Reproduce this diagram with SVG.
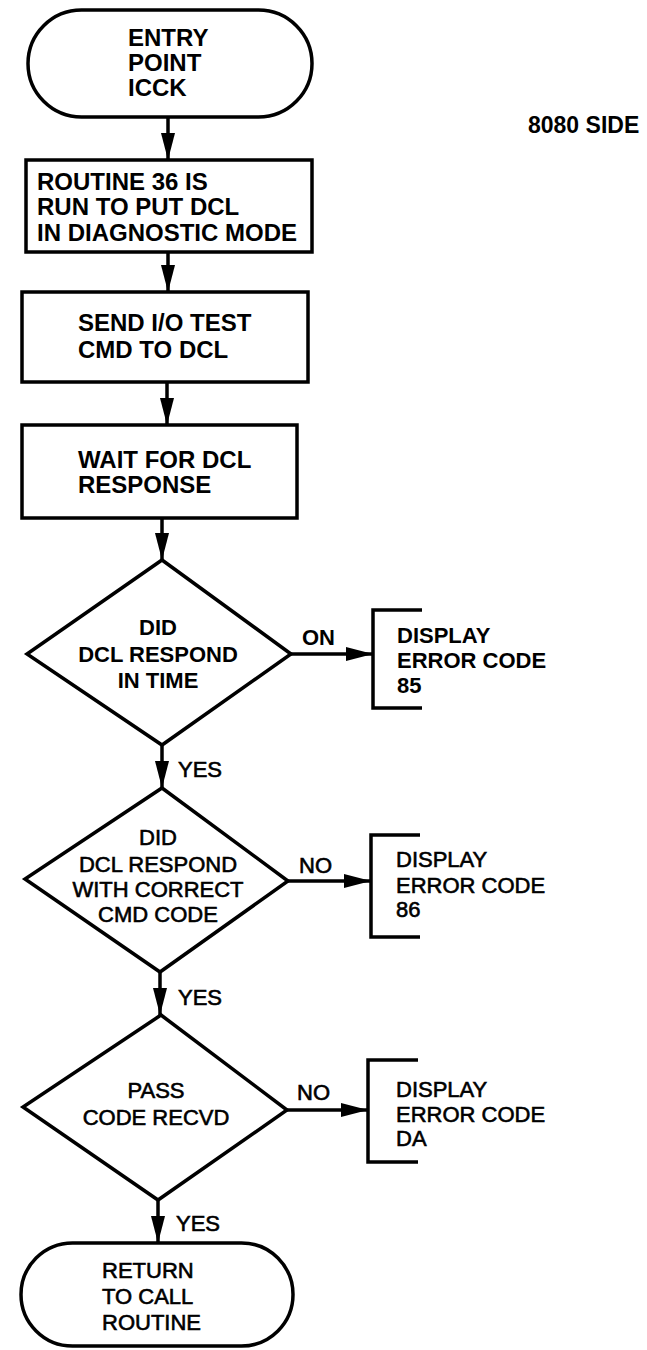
<svg xmlns="http://www.w3.org/2000/svg" width="647" height="1350" viewBox="0 0 647 1350">
<style>
.s{fill:none;stroke:#000;stroke-width:3.5;stroke-linejoin:miter}
.t{font-family:"Liberation Sans",Arial,Helvetica,sans-serif;font-weight:bold;fill:#000}
.b{font-size:24px}
.m{font-size:22px}
.c{text-anchor:middle}
.l{font-size:22px;font-weight:normal;stroke:#000;stroke-width:0.6}
</style>
<defs>
<marker id="ah" markerUnits="userSpaceOnUse" markerWidth="28" markerHeight="15" refX="27" refY="7.5" orient="auto">
<path d="M0,0.5 L27,7.5 L0,14.5 Z" fill="#000"/>
</marker>
</defs>
<rect width="647" height="1350" fill="#fff"/>
<text class="t" x="528" y="133" font-size="23">8080 SIDE</text>

<g id="entry">
<rect class="s" x="28" y="10" width="284" height="107" rx="53.5"/>
<text class="t b" x="128" y="46">ENTRY</text>
<text class="t b" x="128" y="71">POINT</text>
<text class="t b" x="128" y="96">ICCK</text>
</g>

<g id="box1">
<rect class="s" x="26" y="160" width="286" height="92"/>
<text class="t b" x="37" y="190">ROUTINE 36 IS</text>
<text class="t b" x="37" y="215">RUN TO PUT DCL</text>
<text class="t b" x="37" y="241">IN DIAGNOSTIC MODE</text>
</g>

<g id="box2">
<rect class="s" x="22" y="292" width="286" height="90"/>
<text class="t b" x="78" y="331">SEND I/O TEST</text>
<text class="t b" x="78" y="358">CMD TO DCL</text>
</g>

<g id="box3">
<rect class="s" x="22" y="425" width="275" height="93"/>
<text class="t b" x="78" y="468">WAIT FOR DCL</text>
<text class="t b" x="78" y="493">RESPONSE</text>
</g>

<g id="dec1">
<path class="s" d="M162,560 L291,654 L162,745 L27,654 Z"/>
<text class="t m c" x="158" y="635">DID</text>
<text class="t m c" x="158" y="662">DCL RESPOND</text>
<text class="t m c" x="158" y="688">IN TIME</text>
</g>

<g id="err85">
<path class="s" d="M422,610 H373 V708 H422"/>
<text class="t m" x="397" y="643">DISPLAY</text>
<text class="t m" x="397" y="668">ERROR CODE</text>
<text class="t m" x="397" y="693">85</text>
</g>

<g id="dec2">
<path class="s" d="M162,788 L288,881 L160,972 L25,879 Z"/>
<text class="t l c" x="158" y="845">DID</text>
<text class="t l c" x="158" y="872">DCL RESPOND</text>
<text class="t l c" x="158" y="897">WITH CORRECT</text>
<text class="t l c" x="158" y="922">CMD CODE</text>
</g>

<g id="err86">
<path class="s" d="M420,835 H371 V937 H420"/>
<text class="t l" x="396" y="867">DISPLAY</text>
<text class="t l" x="396" y="893">ERROR CODE</text>
<text class="t l" x="396" y="917">86</text>
</g>

<g id="dec3">
<path class="s" d="M161,1015 L287,1110 L158,1200 L23,1107 Z"/>
<text class="t l c" x="156" y="1098">PASS</text>
<text class="t l c" x="156" y="1125">CODE RECVD</text>
</g>

<g id="errDA">
<path class="s" d="M418,1060 H368 V1162 H418"/>
<text class="t l" x="396" y="1097">DISPLAY</text>
<text class="t l" x="396" y="1122">ERROR CODE</text>
<text class="t l" x="396" y="1146">DA</text>
</g>

<g id="return">
<rect class="s" x="21" y="1243" width="272" height="103" rx="51.5"/>
<text class="t l" x="102" y="1278" font-size="23">RETURN</text>
<text class="t l" x="102" y="1304" font-size="23">TO CALL</text>
<text class="t l" x="102" y="1330" font-size="23">ROUTINE</text>
</g>

<g id="connectors">
<path class="s" d="M168,117 V160" marker-end="url(#ah)"/>
<path class="s" d="M168,252 V292" marker-end="url(#ah)"/>
<path class="s" d="M167,382 V425" marker-end="url(#ah)"/>
<path class="s" d="M162,518 V560" marker-end="url(#ah)"/>
<path class="s" d="M162,745 V788" marker-end="url(#ah)"/>
<path class="s" d="M160,972 V1015" marker-end="url(#ah)"/>
<path class="s" d="M158,1200 V1243" marker-end="url(#ah)"/>
<path class="s" d="M291,654 H373" marker-end="url(#ah)"/>
<path class="s" d="M288,881 H371" marker-end="url(#ah)"/>
<path class="s" d="M287,1110 H368" marker-end="url(#ah)"/>
<text class="t m" x="302" y="645">ON</text>
<text class="t l" x="299" y="873">NO</text>
<text class="t l" x="297" y="1100">NO</text>
<text class="t l" x="178" y="777">YES</text>
<text class="t l" x="178" y="1005">YES</text>
<text class="t l" x="176" y="1231">YES</text>
</g>
</svg>
